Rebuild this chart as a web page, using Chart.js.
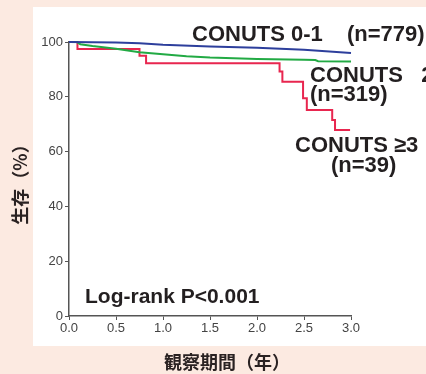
<!DOCTYPE html>
<html>
<head>
<meta charset="utf-8">
<script src="https://cdn.jsdelivr.net/npm/chart.js@4"></script>
<style>
    html, body { margin: 0; padding: 0; background: #fceae1; }
    #km { display: block; }
</style>
</head>
<body>
<canvas id="km" width="426" height="374"></canvas>
<script>
// Follow-up (years) and survival (%)
const lowYears = [0, 0.5, 0.75, 1.0, 1.5, 2.0, 2.5, 3.0];
const lowSurv = [100, 99.8, 99.5, 99.0, 98.4, 97.9, 97.2, 96.0];

const midYears = [0, 0.08, 0.12, 0.25, 0.5, 0.75, 1.0, 1.25, 1.5, 2.0, 2.5, 2.62, 2.65, 3.0];
const midSurv = [100, 100, 99.2, 98.5, 97.5, 96.3, 95.5, 94.8, 94.3, 93.8, 93.5, 93.4, 93.0, 92.9];

// CONUTS >=3 is a step curve: each point is the value from that time on
const highYears = [0, 0.09, 0.75, 0.82, 2.24, 2.27, 2.49, 2.53, 2.80, 2.83, 2.99];
const highSurv = [100, 97.4, 95.0, 92.2, 89.2, 85.5, 79.5, 75.2, 71.5, 67.9, 67.9];

const xTicks = [0, 0.5, 1.0, 1.5, 2.0, 2.5, 3.0];
const yTicks = [0, 20, 40, 60, 80, 100];

const groupLabels = ['CONUTS 0-1', 'CONUTS   2', 'CONUTS \u22653'];
const groupCounts = ['(n=779)', '(n=319)', '(n=39)'];
const pText = 'Log-rank P<0.001';
const xTitle = '観察期間（年）';
const yTitle = '生存（%）';

function toPoints(xs, ys) {
    return xs.map((x, i) => ({ x: x, y: ys[i] }));
}

// Background and text labels
const decor = {
    id: 'decor',
    beforeDraw(chart) {
        const ctx = chart.ctx;
        ctx.save();
        ctx.fillStyle = '#fceae1';
        ctx.fillRect(0, 0, chart.width, chart.height);
        ctx.fillStyle = '#ffffff';
        ctx.fillRect(33, 7, chart.width - 33, 339);
        ctx.restore();
    },
    afterDraw(chart) {
        const ctx = chart.ctx;
        ctx.save();
        ctx.fillStyle = '#231f20';
        ctx.textBaseline = 'alphabetic';
        ctx.textAlign = 'left';
        ctx.font = 'bold 22px "Liberation Sans"';
        ctx.fillText(groupLabels[0], 192, 41);
        ctx.fillText(groupCounts[0], 347, 41);
        ctx.fillText(groupLabels[1], 310, 82);
        ctx.fillText(groupCounts[1], 310, 101);
        ctx.fillText(groupLabels[2], 295, 152);
        ctx.fillText(groupCounts[2], 331, 172);
        ctx.font = 'bold 21px "Liberation Sans"';
        ctx.fillText(pText, 85, 303);

        ctx.fillStyle = '#2a2222';
        ctx.font = 'bold 18px "Noto Sans CJK JP"';
        ctx.textBaseline = 'middle';
        ctx.fillText(xTitle, 164, 362);
        ctx.textAlign = 'center';
        ctx.translate(20, 180);
        ctx.rotate(-Math.PI / 2);
        ctx.fillText(yTitle, 0, 0);
        ctx.restore();
    }
};

const axisColor = '#555555';

new Chart(document.getElementById('km'), {
    type: 'line',
    data: {
        datasets: [
            {
                label: groupLabels[0],
                data: toPoints(lowYears, lowSurv),
                borderColor: '#2d3f9c',
                borderWidth: 2,
                pointRadius: 0,
                tension: 0,
                clip: false
            },
            {
                label: groupLabels[1],
                data: toPoints(midYears, midSurv),
                borderColor: '#22aa44',
                borderWidth: 2,
                pointRadius: 0,
                tension: 0,
                clip: false
            },
            {
                label: groupLabels[2],
                data: toPoints(highYears, highSurv),
                borderColor: '#e8264f',
                borderWidth: 2,
                pointRadius: 0,
                stepped: 'before',
                clip: false
            }
        ]
    },
    options: {
        responsive: false,
        animation: false,
        layout: { padding: { top: 42, right: 75, left: 0, bottom: 0 } },
        plugins: {
            legend: { display: false },
            tooltip: { enabled: false }
        },
        scales: {
            x: {
                type: 'linear',
                min: 0,
                max: 3,
                afterBuildTicks: s => { s.ticks = xTicks.map(v => ({ value: v })); },
                afterFit: s => { s.height = 58; },
                grid: { drawOnChartArea: false, drawTicks: true, tickLength: 4, color: axisColor },
                border: { display: true, color: axisColor, width: 1.5 },
                ticks: {
                    padding: 1,
                    color: '#444',
                    font: { family: 'Liberation Sans', size: 13 },
                    callback: v => v.toFixed(1)
                }
            },
            y: {
                min: 0,
                max: 100,
                afterBuildTicks: s => { s.ticks = yTicks.map(v => ({ value: v })); },
                afterFit: s => { s.width = 69; },
                grid: { drawOnChartArea: false, drawTicks: true, tickLength: 4, color: axisColor },
                border: { display: true, color: axisColor, width: 1.5 },
                ticks: {
                    padding: 2,
                    color: '#444',
                    font: { family: 'Liberation Sans', size: 13 }
                }
            }
        }
    },
    plugins: [decor]
});
</script>
</body>
</html>
